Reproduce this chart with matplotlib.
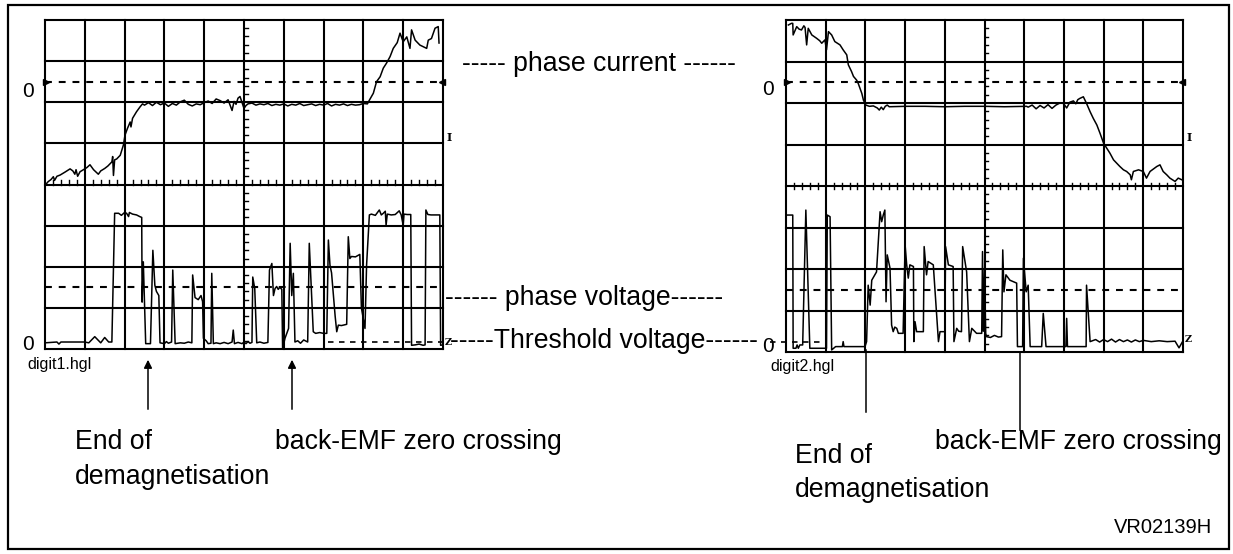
import matplotlib
matplotlib.use('Agg')
import matplotlib.pyplot as plt
from matplotlib.patches import Rectangle, FancyArrowPatch
from matplotlib.lines import Line2D

# ---------------- data (in screen divisions: x 0..10, y 0..8) ----------------
# left scope (digit1) : phase current
left_cur_x = [0.0, 0.08, 0.15, 0.21, 0.24, 0.30, 0.38, 0.50, 0.63, 0.70, 0.75, 0.78, 0.82, 0.88,
              1.05, 1.13, 1.22, 1.34, 1.40, 1.50, 1.58, 1.68, 1.70, 1.72, 1.75, 1.80, 1.89, 1.97,
              2.01, 2.07, 2.14, 2.16, 2.20, 2.30, 2.39, 2.45,
              2.5, 2.6, 2.7, 2.8, 2.9, 3.0, 3.1, 3.2, 3.3, 3.4, 3.5, 3.6, 3.7, 3.8, 3.9, 4.0,
              4.1, 4.2, 4.3, 4.4, 4.5, 4.6, 4.7, 4.75, 4.8, 4.85, 4.9, 5.0, 5.05, 5.1, 5.2,
              5.3, 5.4, 5.5, 5.6, 5.7, 5.8, 5.9, 6.0, 6.1, 6.2, 6.3, 6.4, 6.5, 6.6, 6.7, 6.8,
              6.9, 7.0, 7.1, 7.2, 7.3, 7.4, 7.5, 7.6, 7.7, 7.8, 7.9, 8.0, 8.1,
              8.15, 8.25, 8.33, 8.42, 8.50, 8.58, 8.67, 8.75, 8.85, 8.92, 9.00, 9.09, 9.17,
              9.21, 9.30, 9.42, 9.59, 9.63, 9.71, 9.80, 9.88, 9.90]
left_cur_y = [3.98, 4.07, 4.12, 4.19, 4.10, 4.20, 4.23, 4.30, 4.38, 4.33, 4.25, 4.36, 4.20, 4.31,
              4.41, 4.48, 4.36, 4.25, 4.33, 4.39, 4.45, 4.55, 4.68, 4.22, 4.60, 4.62, 4.71, 4.96,
              5.20, 5.36, 5.52, 5.40, 5.61, 5.77, 5.89, 5.96,
              5.93, 5.99, 5.92, 6.00, 5.94, 5.98, 5.90, 5.97, 5.93, 6.01, 6.05, 5.95, 5.91, 5.96, 5.94, 5.99,
              6.03, 5.97, 6.08, 6.04, 5.98, 6.06, 5.80, 6.02, 5.95, 6.10, 6.14, 5.85, 5.92, 5.96, 5.98,
              5.93, 5.96, 5.94, 5.97, 5.92, 5.95, 5.93, 5.96, 5.91, 5.95, 5.93, 5.97, 5.92, 5.94, 5.96, 5.92,
              5.95, 5.93, 5.97, 5.91, 5.95, 5.93, 5.96, 5.92, 5.95, 5.93, 5.94, 5.97, 5.96,
              6.05, 6.22, 6.50, 6.62, 6.83, 6.95, 7.11, 7.31, 7.45, 7.68, 7.47, 7.59, 7.31,
              7.76, 7.51, 7.39, 7.31, 7.51, 7.55, 7.80, 7.84, 7.44]

# left scope : phase voltage
left_volt_x = [0.0, 0.3, 0.35, 0.4, 1.0, 1.1, 1.25, 1.4, 1.5, 1.6, 1.68, 1.75, 1.85, 1.92, 2.0, 2.05,
               2.1, 2.12, 2.2, 2.3, 2.38, 2.43, 2.44, 2.47, 2.53, 2.65, 2.71, 2.76, 2.80, 2.83, 2.86,
               2.89, 3.0, 3.05, 3.1, 3.18, 3.21, 3.27, 3.4, 3.5, 3.6, 3.69, 3.71, 3.77, 3.85, 3.92,
               3.96, 3.98, 4.05, 4.10, 4.17, 4.19, 4.23, 4.3, 4.4, 4.5, 4.6, 4.7, 4.73, 4.76, 4.85,
               4.95, 5.0, 5.05, 5.1, 5.15, 5.20, 5.22, 5.27, 5.32, 5.4, 5.5, 5.6, 5.64, 5.70, 5.74,
               5.78, 5.82, 5.86, 5.90, 5.95, 5.97, 6.03, 6.12, 6.16, 6.20, 6.24, 6.28, 6.35, 6.42,
               6.5, 6.6, 6.64, 6.74, 6.8, 6.9, 7.0, 7.08, 7.12, 7.16, 7.20, 7.29, 7.33, 7.37, 7.45,
               7.58, 7.62, 7.66, 7.70, 7.80, 7.91, 7.95, 8.04, 8.08, 8.15, 8.2, 8.3, 8.4, 8.45, 8.5,
               8.55, 8.57, 8.6, 8.7, 8.8, 8.9, 8.95, 9.0, 9.02, 9.1, 9.19, 9.21, 9.3, 9.4, 9.5, 9.55,
               9.57, 9.62, 9.7, 9.8, 9.92, 9.94, 10.0]
left_volt_y = [0.15, 0.17, 0.12, 0.17, 0.17, 0.15, 0.30, 0.15, 0.28, 0.17, 0.17, 3.30, 3.30, 3.25, 3.32, 3.30,
               3.22, 3.32, 3.28, 3.26, 3.22, 3.20, 1.14, 2.12, 0.13, 0.13, 2.40, 1.55, 1.40, 1.35, 1.30,
               0.15, 0.13, 0.18, 0.14, 0.17, 1.92, 0.13, 0.15, 0.14, 0.17, 0.15, 1.80, 1.25, 1.20, 1.30,
               1.15, 0.26, 0.20, 0.13, 0.14, 1.84, 0.13, 0.15, 0.13, 0.16, 0.13, 0.17, 0.46, 0.13, 0.16,
               0.13, 0.17, 0.13, 0.18, 0.14, 0.16, 1.75, 1.47, 0.15, 0.17, 0.14, 0.16, 1.92, 2.08, 1.30,
               1.47, 1.52, 1.45, 1.50, 1.45, 0.01, 0.26, 0.50, 2.57, 1.30, 1.84, 0.17, 0.20, 0.14,
               0.22, 0.17, 2.57, 0.42, 0.38, 0.40, 0.38, 0.38, 2.65, 2.04, 1.85, 0.80, 0.42, 0.58, 0.57,
               0.60, 2.73, 2.20, 2.25, 2.24, 2.30, 1.00, 0.50, 2.04, 3.26, 3.28, 3.25, 3.38, 3.26, 3.30,
               3.35, 3.01, 3.28, 3.26, 3.27, 3.36, 3.26, 3.01, 3.28, 3.27, 3.27, 0.09, 0.10, 0.12, 0.09, 0.10,
               3.38, 3.27, 3.26, 3.26, 3.26, 0.09, 0.10]

# right scope (digit2) : phase current
right_cur_x = [0.06, 0.14, 0.17, 0.18, 0.27, 0.33, 0.39, 0.45, 0.48, 0.52, 0.56, 0.65, 0.77, 0.85, 0.90,
               0.98, 1.02, 1.07, 1.15, 1.23, 1.36, 1.44, 1.53, 1.57, 1.65, 1.70, 1.78, 1.82, 1.91, 1.95,
               2.01, 2.10, 2.20, 2.30, 2.35, 2.40, 2.45, 2.50, 2.55, 2.60, 3.0, 3.5, 4.0, 4.5, 5.0, 5.5,
               6.06, 6.1, 6.2, 6.3, 6.4, 6.5, 6.6, 6.7, 6.8, 6.9, 6.99, 7.07, 7.15, 7.24, 7.30, 7.35,
               7.40, 7.49, 7.57, 7.66, 7.74, 7.83, 7.91, 8.00, 8.08, 8.16, 8.25, 8.33, 8.41, 8.50, 8.58,
               8.67, 8.70, 8.75, 8.88, 9.00, 9.08, 9.17, 9.34, 9.42, 9.50, 9.59, 9.67, 9.80, 9.88, 9.97]
right_cur_y = [7.88, 7.92, 7.92, 7.64, 7.84, 7.78, 7.76, 7.86, 7.82, 7.40, 7.80, 7.64, 7.56, 7.50, 7.44,
               7.52, 7.28, 7.72, 7.64, 7.48, 7.40, 7.28, 7.16, 6.92, 6.76, 6.64, 6.55, 6.47, 6.23, 6.07,
               5.95, 5.92, 5.93, 5.88, 5.83, 5.90, 5.84, 5.92, 5.95, 5.91, 5.92, 5.92, 5.91, 5.92, 5.92, 5.91,
               5.92, 5.90, 5.95, 5.86, 5.94, 5.88, 5.96, 5.87, 5.95, 6.00, 5.99, 5.88, 6.02, 6.05, 5.98, 6.08,
               6.11, 6.15, 5.99, 5.79, 5.63, 5.47, 5.27, 5.03, 4.91, 4.79, 4.63, 4.55, 4.47, 4.39, 4.35,
               4.27, 4.15, 4.35, 4.39, 4.35, 4.19, 4.35, 4.47, 4.51, 4.35, 4.27, 4.19, 4.11, 4.19, 4.15]

# right scope : phase voltage
right_volt_x = [0.0, 0.17, 0.18, 0.25, 0.28, 0.31, 0.35, 0.42, 0.50, 0.60, 0.70, 1.02, 1.04, 1.11, 1.15,
                1.25, 1.35, 1.42, 1.44, 1.46, 1.70, 1.99, 2.03, 2.07, 2.12, 2.16, 2.28, 2.37, 2.41, 2.45,
                2.49, 2.52, 2.55, 2.62, 2.66, 2.70, 2.74, 2.79, 2.83, 2.87, 2.95, 3.00, 3.04, 3.08, 3.12,
                3.21, 3.22, 3.25, 3.29, 3.46, 3.48, 3.54, 3.58, 3.71, 3.84, 3.88, 4.00, 4.02, 4.09, 4.21,
                4.23, 4.30, 4.35, 4.42, 4.45, 4.55, 4.62, 4.68, 4.80, 4.93, 4.95, 4.97, 5.00, 5.03, 5.05,
                5.15, 5.25, 5.35, 5.43, 5.46, 5.49, 5.54, 5.64, 5.81, 5.83, 5.96, 5.98, 6.05, 6.10, 6.15,
                6.44, 6.48, 6.55, 7.05, 7.07, 7.09, 7.56, 7.57, 7.66, 7.8, 7.9, 8.0, 8.1, 8.2, 8.3, 8.4,
                8.5, 8.6, 8.7, 8.8, 8.9, 9.0, 9.2, 9.4, 9.6, 9.8, 9.9, 10.0]
right_volt_y = [3.30, 3.30, 0.09, 0.09, 0.17, 0.09, 0.17, 0.17, 3.42, 0.09, 0.09, 0.09, 3.30, 3.26, 0.05,
                0.13, 0.13, 0.13, 0.25, 0.13, 0.13, 0.13, 0.25, 1.61, 1.13, 1.73, 1.93, 3.38, 3.14, 3.30,
                3.42, 1.21, 2.34, 2.02, 0.65, 0.49, 0.60, 0.57, 0.45, 0.45, 0.45, 2.58, 2.10, 1.78, 2.10,
                2.06, 0.25, 0.73, 0.49, 0.49, 2.54, 1.86, 2.18, 2.10, 0.25, 0.49, 0.49, 2.54, 2.10, 2.06,
                0.25, 0.57, 0.50, 0.49, 2.54, 1.93, 0.25, 0.57, 0.45, 0.45, 2.42, 0.50, 2.00, 0.45, 0.37,
                0.35, 0.40, 0.36, 0.37, 2.46, 1.45, 1.86, 1.73, 1.66, 0.13, 0.13, 2.26, 1.45, 1.61, 0.13,
                0.13, 0.93, 0.13, 0.13, 0.81, 0.13, 0.13, 1.61, 0.25, 0.30, 0.24, 0.30, 0.25, 0.31, 0.24, 0.30,
                0.25, 0.29, 0.24, 0.29, 0.25, 0.28, 0.25, 0.27, 0.25, 0.26, 0.10, 0.27]

# ---------------- figure ----------------
W, H = 1233, 554
plt.rcParams['font.family'] = ['Liberation Sans', 'DejaVu Sans']
fig = plt.figure(figsize=(W / 100, H / 100), dpi=100)


def fx(px):
    return px / W


def fy(py):
    return 1 - py / H


# outer frame
fig.add_artist(Rectangle((fx(8), fy(549)), fx(1229) - fx(8), fy(5) - fy(549),
                         transform=fig.transFigure, fill=False, lw=1.6, ec='black'))

GRID_LW = 1.5
DASH = (0, (3.3, 3.3))


def make_scope(l, t, r, b, crossing_ticks):
    ax = fig.add_axes([fx(l), fy(b), fx(r) - fx(l), fy(t) - fy(b)])
    ax.set_xlim(0, 10)
    ax.set_ylim(0, 8)
    ax.axis('off')
    for i in range(11):
        ax.plot([i, i], [0, 8], color='black', lw=GRID_LW, clip_on=False,
                solid_capstyle='projecting')
    for j in range(9):
        ax.plot([0, 10], [j, j], color='black', lw=GRID_LW, clip_on=False,
                solid_capstyle='projecting')
    for yd in (6.5, 1.5):
        ax.plot([0, 10], [yd, yd], color='black', lw=1.5, ls=DASH)
    # minor ticks on the centre lines
    for k in range(1, 50):
        if k % 5:
            x = k * 0.2
            if crossing_ticks:
                ax.plot([x, x], [3.92, 4.08], color='black', lw=1.0)
            else:
                ax.plot([x, x], [4.0, 4.1], color='black', lw=1.0)
    for k in range(1, 40):
        if k % 5:
            y = k * 0.2
            ax.plot([5.0, 5.1], [y, y], color='black', lw=1.0)
    # zero-level markers on the edges
    ax.plot([0.03], [6.5], marker='>', ms=4, color='black', clip_on=False)
    ax.plot([9.97], [6.5], marker='<', ms=4, color='black', clip_on=False)
    return ax


axL = make_scope(45, 20, 443, 349, crossing_ticks=False)
axR = make_scope(786, 20, 1183, 352, crossing_ticks=True)

TR_LW = 1.1
axL.plot(left_cur_x, left_cur_y, color='black', lw=TR_LW)
axL.plot(left_volt_x, left_volt_y, color='black', lw=TR_LW)
axR.plot(right_cur_x, right_cur_y, color='black', lw=TR_LW)
axR.plot(right_volt_x, right_volt_y, color='black', lw=TR_LW)

# threshold dashed lines
axL.plot([7.1, 10.1], [0.17, 0.17], color='black', lw=1.2, ls=DASH, clip_on=False)
fig.add_artist(Line2D([fx(770), fx(822)], [fy(342), fy(342)], transform=fig.transFigure,
                      color='black', lw=1.2, ls=DASH))

# channel markers
axL.text(10.08, 5.15, 'I', fontsize=8, fontweight='bold', family='DejaVu Serif',
         ha='left', va='center', clip_on=False)
axL.text(10.05, 0.17, 'Z', fontsize=7, fontweight='bold', family='DejaVu Serif',
         ha='left', va='center', clip_on=False)
axR.text(10.08, 5.18, 'I', fontsize=8, fontweight='bold', family='DejaVu Serif',
         ha='left', va='center', clip_on=False)
axR.text(10.05, 0.3, 'Z', fontsize=7, fontweight='bold', family='DejaVu Serif',
         ha='left', va='center', clip_on=False)

# ---------------- texts ----------------
FS = 19.2


def label(px, py, s, fs=FS, ha='left'):
    fig.text(fx(px), fy(py), s, fontsize=fs, ha=ha, va='baseline')


label(22, 97, '0', fs=15)
label(22, 350, '0', fs=15)
label(762, 95, '0', fs=15)
label(762, 352, '0', fs=15)

label(462, 71, '----- phase current ------')
label(445, 305, '------ phase voltage------')
label(450, 348, '-----Threshold voltage------')

label(27, 369, 'digit1.hgl', fs=11.5)
label(770, 371, 'digit2.hgl', fs=11.5)

label(75, 449, 'End of')
label(75, 484, 'demagnetisation')
label(275, 449, 'back-EMF zero crossing')
label(795, 463, 'End of')
label(795, 497, 'demagnetisation')
label(935, 449, 'back-EMF zero crossing')
label(1114, 533, 'VR02139H', fs=14.5)

# arrows / pointer lines
for xa in (148, 292):
    fig.add_artist(FancyArrowPatch((fx(xa), fy(412)), (fx(xa), fy(357)),
                                   transform=fig.transFigure, arrowstyle='-|>',
                                   mutation_scale=12, lw=1.1, color='black'))
fig.add_artist(Line2D([fx(866), fx(866)], [fy(350), fy(412)], transform=fig.transFigure,
                      color='black', lw=1.1))
fig.add_artist(Line2D([fx(1020), fx(1020)], [fy(352), fy(430)], transform=fig.transFigure,
                      color='black', lw=1.1))

fig.savefig('out.png', dpi=100)
